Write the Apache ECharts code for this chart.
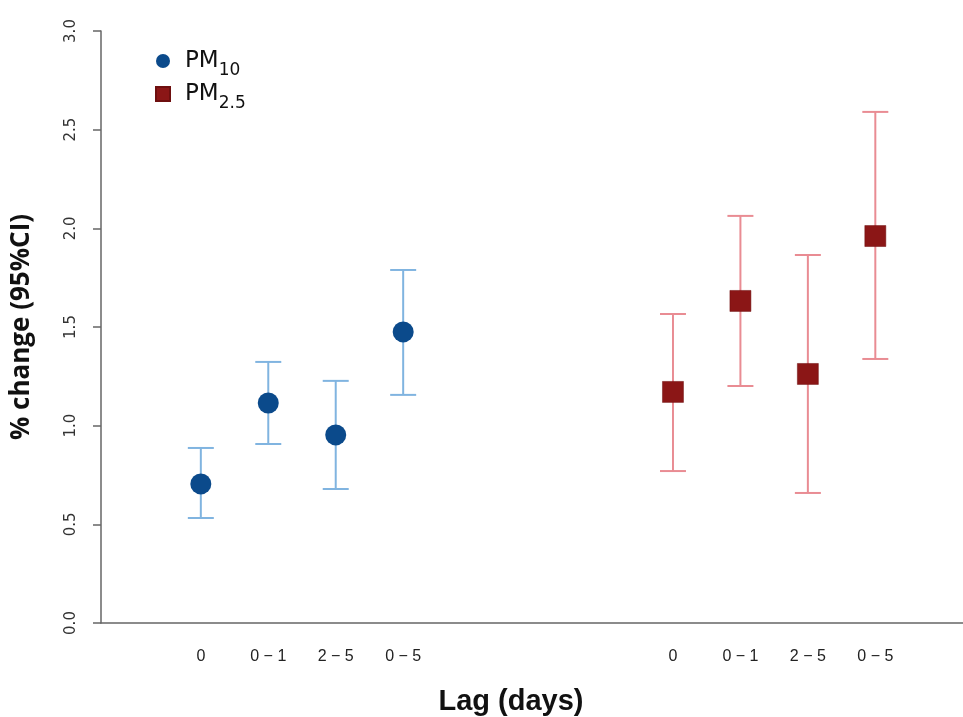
<!DOCTYPE html>
<html>
<head>
<meta charset="utf-8">
<script src="https://cdn.jsdelivr.net/npm/echarts@6/dist/echarts.min.js"></script>
<style>html,body{margin:0;padding:0;background:#fff}#c{width:963px;height:717px}</style>
</head>
<body>
<div id="c"></div>
<script>
const lagLabels = ['0', '0 \u2212 1', '2 \u2212 5', '0 \u2212 5'];
const pm10Pos = [0, 1, 2, 3];
const pm25Pos = [7, 8, 9, 10];
const pm10Est = [0.705, 1.115, 0.953, 1.475];
const pm10Low = [0.532, 0.907, 0.679, 1.156];
const pm10High = [0.887, 1.323, 1.227, 1.789];
const pm25Est = [1.171, 1.632, 1.262, 1.961];
const pm25Low = [0.770, 1.201, 0.659, 1.338];
const pm25High = [1.566, 2.063, 1.865, 2.590];
const yTicks = [0, 0.5, 1.0, 1.5, 2.0, 2.5, 3.0];

const labelMap = {};
pm10Pos.forEach((p, i) => labelMap[p] = lagLabels[i]);
pm25Pos.forEach((p, i) => labelMap[p] = lagLabels[i]);

function errData(pos, low, high) {
  return pos.map((p, i) => [p, low[i], high[i]]);
}
function errSeries(name, data, color) {
  return {
    type: 'custom',
    name: name + 'err',
    data: data,
    silent: true,
    z: 1,
    renderItem: function (params, api) {
      const x = api.value(0);
      const lo = api.coord([x, api.value(1)]);
      const hi = api.coord([x, api.value(2)]);
      const hw = 13;
      const st = { stroke: color, lineWidth: 2, fill: null };
      return {
        type: 'group',
        children: [
          { type: 'line', shape: { x1: lo[0], y1: lo[1], x2: hi[0], y2: hi[1] }, style: st },
          { type: 'line', shape: { x1: lo[0] - hw, y1: lo[1], x2: lo[0] + hw, y2: lo[1] }, style: st },
          { type: 'line', shape: { x1: hi[0] - hw, y1: hi[1], x2: hi[0] + hw, y2: hi[1] }, style: st }
        ]
      };
    }
  };
}

const chart = echarts.init(document.getElementById('c'));
chart.setOption({
  animation: false,
  backgroundColor: '#fff',
  grid: { left: 101, right: 0, top: 31, bottom: 94, containLabel: false, outerBoundsMode: 'none' },
  legend: {
    left: 155, top: 50, padding: 0, orient: 'vertical', itemGap: 4,
    itemWidth: 14, itemHeight: 14,
    data: [
      { name: 'PM10', icon: 'circle', itemStyle: { color: '#0b4a8b' } },
      { name: 'PM2.5', icon: 'rect', itemStyle: { color: '#8b1616' } }
    ],
    formatter: function (n) {
      return n === 'PM10' ? '{s|}{a|PM}{b|10}' : '{s|}{a|PM}{b|2.5}';
    },
    textStyle: {
      rich: {
        s: { width: 10 },
        a: { fontSize: 23, color: '#111', fontFamily: 'DejaVu Sans', verticalAlign: 'bottom', lineHeight: 24 },
        b: { fontSize: 17, color: '#111', fontFamily: 'DejaVu Sans', verticalAlign: 'bottom', lineHeight: 14, padding: [0, 0, -6, 0] }
      }
    }
  },
  xAxis: {
    type: 'value', min: -1.48, max: 11.3,
    splitLine: { show: false },
    axisLine: { show: true, onZero: false, lineStyle: { color: '#666', width: 1.5 } },
    axisTick: { show: false },
    axisLabel: {
      customValues: pm10Pos.concat(pm25Pos),
      formatter: v => labelMap[Math.round(v)] || '',
      margin: 26, fontSize: 16, color: '#222', fontFamily: 'Liberation Sans Narrow, Liberation Sans'
    },
    name: 'Lag (days)', nameLocation: 'middle', nameGap: 64,
    nameTextStyle: { fontSize: 29, fontWeight: 'bold', color: '#111', fontFamily: 'Liberation Sans Narrow, Liberation Sans', padding: [0, 42, 0, 0] }
  },
  yAxis: {
    type: 'value', min: 0, max: 3, interval: 0.5,
    splitLine: { show: false },
    axisLine: { show: true, onZero: false, lineStyle: { color: '#666', width: 1.5 } },
    axisTick: { show: true, inside: false, length: 8, lineStyle: { color: '#666', width: 1.5 } },
    axisLabel: {
      customValues: yTicks,
      rotate: 90, margin: 22, fontSize: 15, color: '#333', fontFamily: 'DejaVu Sans',
      formatter: v => v.toFixed(1)
    },
    name: '% change (95%CI)', nameLocation: 'middle', nameGap: 66, nameRotate: 90,
    nameTextStyle: { fontSize: 26, fontWeight: 'bold', color: '#111', fontFamily: 'Open Sans, DejaVu Sans' }
  },
  series: [
    errSeries('PM10', errData(pm10Pos, pm10Low, pm10High), '#80b4e0'),
    errSeries('PM2.5', errData(pm25Pos, pm25Low, pm25High), '#e98c93'),
    {
      type: 'scatter', name: 'PM10', symbol: 'circle', symbolSize: 21, z: 3,
      itemStyle: { color: '#0b4a8b', opacity: 1 },
      data: pm10Pos.map((p, i) => [p, pm10Est[i]])
    },
    {
      type: 'scatter', name: 'PM2.5', symbol: 'rect', symbolSize: 21, z: 3,
      itemStyle: { color: '#8b1616', opacity: 1, borderColor: '#6e0f0f', borderWidth: 0.5 },
      data: pm25Pos.map((p, i) => [p, pm25Est[i]])
    }
  ]
});
</script>
</body>
</html>
